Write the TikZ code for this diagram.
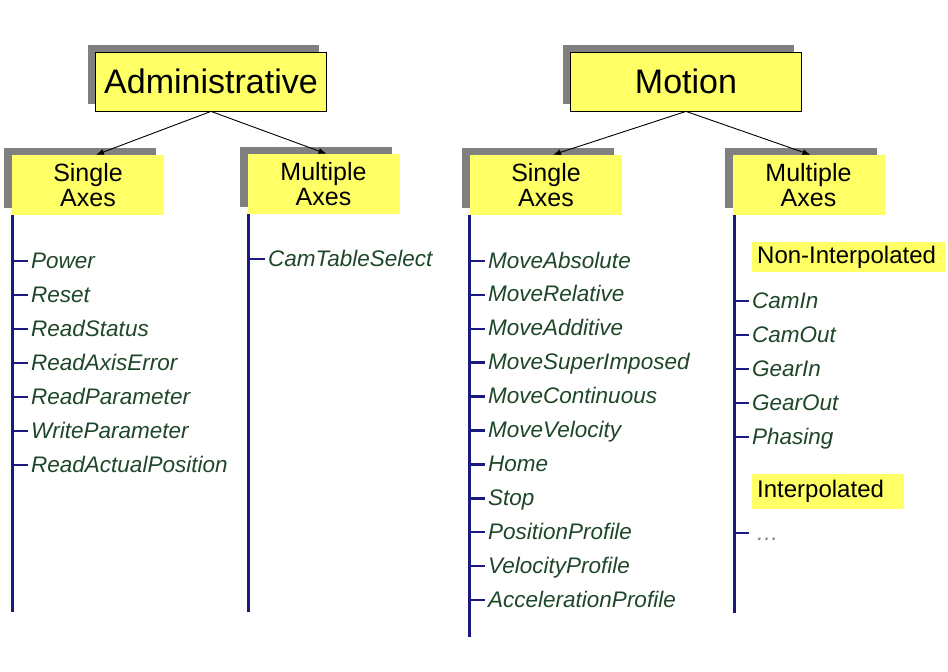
\documentclass[tikz,border=0pt]{standalone}
\usepackage{fontspec}
\setmainfont{Liberation Sans}
\usepackage{tikz}
\usetikzlibrary{arrows.meta,positioning,shadows}
\definecolor{boxyellow}{RGB}{255,255,102}
\definecolor{boxgray}{RGB}{128,128,128}
\definecolor{treeblue}{RGB}{25,25,128}
\definecolor{itemgreen}{RGB}{30,70,40}
\tikzset{
	grayshadow/.style={drop shadow={shadow xshift=-8pt, shadow yshift=7pt, fill=boxgray, opacity=1}},
	topbox/.style={draw=black, line width=0.8pt, fill=boxyellow, grayshadow, minimum width=231pt, minimum height=59pt, font=\fontsize{34}{36}\selectfont},
	subbox/.style={fill=boxyellow, grayshadow, minimum width=152pt, minimum height=60pt, inner sep=0pt, align=center, font=\fontsize{25}{25}\selectfont},
	groupbox/.style={fill=boxyellow, anchor=west, inner xsep=5pt, align=left, font=\fontsize{24}{26}\selectfont},
	arrow/.style={-{Latex[length=8pt, width=6pt]}, line width=0.9pt},
	trunk/.style={treeblue, line width=3pt},
	twig/.style={treeblue, line width=2.5pt},
	item/.style={anchor=west, inner sep=0pt, text height=14pt, text depth=0pt, font=\fontsize{22.5}{24}\selectfont\itshape, text=itemgreen}
}
\begin{document}
\begin{tikzpicture}[x=1pt, y=-1pt]
	\useasboundingbox (0,0) rectangle (948,672);
	% top level
	\node[topbox] (admin) at (211,81.5) {Administrative};
	\node[topbox] (motion) at (686,81.5) {Motion};
	% second level
	\node[subbox] (adminsingle) at (88,185) {\strut Single\\Axes};
	\node[subbox] (adminmulti) at (323.5,184) {\strut Multiple\\Axes};
	\node[subbox] (motionsingle) at (546,185) {\strut Single\\Axes};
	\node[subbox] (motionmulti) at (808.5,185) {\strut Multiple\\Axes};
	
	\draw[arrow] (admin.south) -- ([xshift=8pt]adminsingle.north);
	\draw[arrow] (admin.south) -- ([xshift=3pt]adminmulti.north);
	\draw[arrow] (motion.south) -- ([xshift=7pt]motionsingle.north);
	\draw[arrow] (motion.south) -- ([xshift=2pt]motionmulti.north);
	
	% trunks
	\coordinate (asend) at (12,612);
	\coordinate (amend) at (248,612);
	\coordinate (msend) at (469,637);
	\coordinate (mmend) at (734,613);
	\draw[trunk] (adminsingle.south -| asend) -- (asend);
	\draw[trunk] (adminmulti.south -| amend) -- (amend);
	\draw[trunk] (motionsingle.south -| msend) -- (msend);
	\draw[trunk] (motionmulti.south -| mmend) -- (mmend);
	
	% administrative, single axes
	\foreach \name [count=\i from 0] in {Power,Reset,ReadStatus,ReadAxisError,ReadParameter,WriteParameter,ReadActualPosition}{
		\node[item] (as\i) at (31,261+34*\i) {\name};
		\draw[twig] (as\i.west -| asend) -- ([xshift=-3pt]as\i.west);
	}
	% administrative, multiple axes
	\node[item] (am0) at (268,259) {CamTableSelect};
	\draw[twig] (am0.west -| amend) -- ([xshift=-3pt]am0.west);
	
	% motion, single axes
	\foreach \name [count=\i from 0] in {MoveAbsolute,MoveRelative,MoveAdditive,MoveSuperImposed,MoveContinuous,MoveVelocity,Home,Stop,PositionProfile,VelocityProfile,AccelerationProfile}{
		\node[item] (ms\i) at (488,261+33.9*\i) {\name};
		\draw[twig] (ms\i.west -| msend) -- ([xshift=-3pt]ms\i.west);
	}
	
	% motion, multiple axes
	\node[groupbox, text width=183pt] (nonint) at (752,257) {Non-Interpolated};
	\foreach \name [count=\i from 0] in {CamIn,CamOut,GearIn,GearOut,Phasing}{
		\node[item] (mm\i) at (752,301+34*\i) {\name};
		\draw[twig] (mm\i.west -| mmend) -- ([xshift=-3pt]mm\i.west);
	}
	\node[groupbox, text width=142pt, minimum height=35pt] (interp) at (752,491) {Interpolated};
	\node[item, text=gray] (mmdots) at (756,533) {\ldots};
	\draw[twig] (mmdots.west -| mmend) -- ([xshift=-7pt]mmdots.west);
\end{tikzpicture}
\end{document}
